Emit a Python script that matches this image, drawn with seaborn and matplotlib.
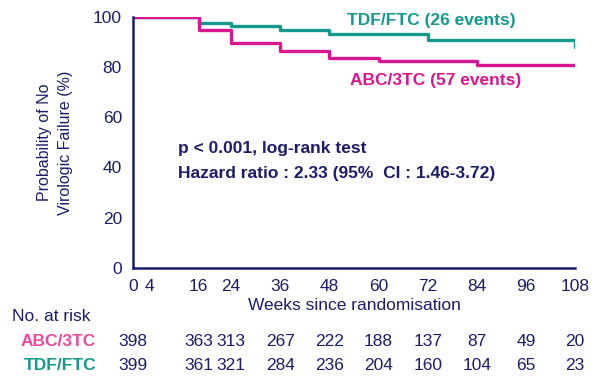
import pandas as pd
import matplotlib
matplotlib.use('Agg')
import matplotlib.pyplot as plt
import matplotlib.transforms as mtransforms
import seaborn as sns

# Kaplan-Meier steps
tdf_weeks = [0, 16, 24, 36, 48, 72, 108]
tdf_surv = [100, 97.3, 96.3, 94.9, 93.2, 90.8, 88.0]
abc_weeks = [0, 16, 24, 36, 48, 60, 84, 108]
abc_surv = [100, 94.9, 89.7, 86.4, 83.7, 82.3, 80.7, 80.7]

# number at risk table
risk_weeks = [0, 16, 24, 36, 48, 60, 72, 84, 96, 108]
abc_risk = [398, 363, 313, 267, 222, 188, 137, 87, 49, 20]
tdf_risk = [399, 361, 321, 284, 236, 204, 160, 104, 65, 23]
x_ticks = [0, 4, 16, 24, 36, 48, 60, 72, 84, 96, 108]

navy = '#1c1c6a'
teal = '#139a8b'
magenta = '#d8168f'
pink = '#ea4a9c'

sns.set_style('white')
plt.rcParams['font.family'] = ['Liberation Sans', 'DejaVu Sans']

df = pd.concat([
    pd.DataFrame({'week': tdf_weeks, 'surv': tdf_surv, 'arm': 'TDF/FTC'}),
    pd.DataFrame({'week': abc_weeks, 'surv': abc_surv, 'arm': 'ABC/3TC'}),
])

fig = plt.figure(figsize=(6, 3.86), dpi=100)
ax = fig.add_axes([0.2217, 0.3057, 0.7367, 0.651])

sns.lineplot(data=df, x='week', y='surv', hue='arm',
             palette={'TDF/FTC': teal, 'ABC/3TC': magenta},
             drawstyle='steps-post', linewidth=2.4, legend=False, ax=ax)

ax.set_xlim(0, 108)
ax.set_ylim(0, 100)
ax.set_xticks(x_ticks)
ax.set_yticks([0, 20, 40, 60, 80, 100])
ax.tick_params(direction='out', length=6, width=1.8, color=navy,
               labelcolor=navy, labelsize=12.5, pad=2)
for s in ['top', 'right']:
    ax.spines[s].set_visible(False)
for s in ['left', 'bottom']:
    ax.spines[s].set_color(navy)
    ax.spines[s].set_linewidth(1.8)

ax.set_xlabel('Weeks since randomisation', color=navy, fontsize=12.5, labelpad=3)
ax.set_ylabel('Probability of No\nVirologic Failure (%)', color=navy,
              fontsize=11.5, labelpad=14, linespacing=1.5)

ax.text(73, 98.5, 'TDF/FTC (26 events)', color=teal, fontsize=12.5,
        fontweight='bold', ha='center', va='center')
ax.text(74, 74.5, 'ABC/3TC (57 events)', color=magenta, fontsize=12.5,
        fontweight='bold', ha='center', va='center')
ax.text(11, 47.5, 'p < 0.001, log-rank test', color=navy, fontsize=12.5,
        fontweight='bold', ha='left', va='center')
ax.text(11, 37.5, 'Hazard ratio : 2.33 (95%  CI : 1.46-3.72)', color=navy,
        fontsize=12.5, fontweight='bold', ha='left', va='center')

# risk table below the axis
trans = mtransforms.blended_transform_factory(ax.transData, fig.transFigure)
fig.text(0.02, 0.179, 'No. at risk', color=navy, fontsize=12.5, ha='left', va='center')
fig.text(0.16, 0.114, 'ABC/3TC', color=pink, fontsize=12.5, fontweight='bold',
         ha='right', va='center')
fig.text(0.16, 0.052, 'TDF/FTC', color=teal, fontsize=12.5, fontweight='bold',
         ha='right', va='center')
for w, a, t in zip(risk_weeks, abc_risk, tdf_risk):
    ax.text(w, 0.114, str(a), transform=trans, color=navy, fontsize=12.5,
            ha='center', va='center', clip_on=False)
    ax.text(w, 0.052, str(t), transform=trans, color=navy, fontsize=12.5,
            ha='center', va='center', clip_on=False)

fig.savefig('out.png', dpi=100)
